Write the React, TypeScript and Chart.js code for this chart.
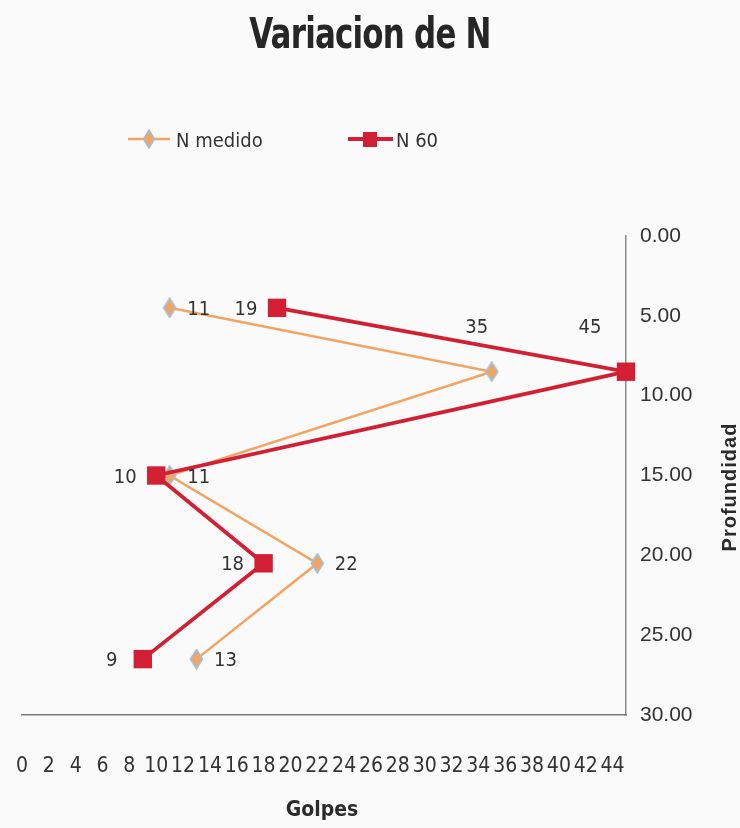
import React, { useEffect, useRef } from "react";
import { Chart, registerables } from "chart.js";

Chart.register(...registerables);

// ---- Data ----
const depths = [4.5, 8.5, 15, 20.5, 26.5];
const nMedido = [11, 35, 11, 22, 13];
const n60 = [19, 45, 10, 18, 9];
const xTickValues = [0, 2, 4, 6, 8, 10, 12, 14, 16, 18, 20, 22, 24, 26, 28, 30, 32, 34, 36, 38, 40, 42, 44];
const yTickValues = [0, 5, 10, 15, 20, 25, 30];
const seriesNames = ["N medido", "N 60"];
const chartTitle = "Variacion de N";
const xTitle = "Golpes";
const yTitle = "Profundidad";

const NARROW = '"DejaVu Sans Condensed", "Liberation Sans Narrow", "Liberation Sans", Arial, sans-serif';
const WIDE = '"Liberation Sans", Arial, sans-serif';
const ORANGE = "#f3a463";
const RED = "#d21f33";
const DIAMOND_EDGE = "#9fbfd8";
const TEXT = "#333333";

function makeDiamond(): HTMLCanvasElement {
  const c = document.createElement("canvas");
  c.width = 15;
  c.height = 21;
  const g = c.getContext("2d")!;
  g.beginPath();
  g.moveTo(7.5, 1);
  g.lineTo(13.5, 10.5);
  g.lineTo(7.5, 20);
  g.lineTo(1.5, 10.5);
  g.closePath();
  g.fillStyle = ORANGE;
  g.fill();
  g.strokeStyle = DIAMOND_EDGE;
  g.lineWidth = 1.6;
  g.stroke();
  return c;
}

const textPlugin = {
  id: "textPlugin",
  afterDraw(chart: any) {
    const ctx = chart.ctx;
    ctx.save();
    // Title (condensed horizontally)
    ctx.save();
    ctx.fillStyle = "#262626";
    ctx.font = `bold 43px ${NARROW}`;
    (ctx as any).letterSpacing = "-1px";
    ctx.textAlign = "center";
    ctx.textBaseline = "alphabetic";
    ctx.translate(370, 48);
    ctx.scale(0.8, 1);
    ctx.fillText(chartTitle, 0, 0);
    ctx.restore();

    // Legend
    ctx.lineWidth = 2.5;
    ctx.strokeStyle = ORANGE;
    ctx.beginPath();
    ctx.moveTo(128, 139);
    ctx.lineTo(170, 139);
    ctx.stroke();
    ctx.beginPath();
    ctx.moveTo(149, 130);
    ctx.lineTo(154.5, 139);
    ctx.lineTo(149, 148);
    ctx.lineTo(143.5, 139);
    ctx.closePath();
    ctx.fillStyle = ORANGE;
    ctx.fill();
    ctx.strokeStyle = DIAMOND_EDGE;
    ctx.lineWidth = 1.5;
    ctx.stroke();

    ctx.strokeStyle = RED;
    ctx.lineWidth = 3.8;
    ctx.beginPath();
    ctx.moveTo(348, 139);
    ctx.lineTo(393, 139);
    ctx.stroke();
    ctx.fillStyle = RED;
    ctx.fillRect(363, 132, 14, 15);

    ctx.fillStyle = TEXT;
    ctx.font = `20px ${NARROW}`;
    ctx.textAlign = "left";
    ctx.textBaseline = "alphabetic";
    ctx.fillText(seriesNames[0], 176, 147);
    ctx.fillText(seriesNames[1], 396, 147);

    // Data labels
    ctx.font = `20px ${NARROW}`;
    ctx.textAlign = "center";
    chart.data.datasets.forEach((ds: any, di: number) => {
      const meta = chart.getDatasetMeta(di);
      const vals = ds.data.map((d: any) => d.x);
      const maxV = Math.max(...vals);
      meta.data.forEach((pt: any, i: number) => {
        const v = ds.data[i].x;
        let lx: number, ly: number;
        if (v === maxV) {
          lx = pt.x + (di === 0 ? -15 : -36);
          ly = pt.y - 39;
        } else if (di === 0) {
          lx = pt.x + 29;
          ly = pt.y + 7;
        } else {
          lx = pt.x - 31;
          ly = pt.y + 7;
        }
        ctx.fillText(String(v), lx, ly);
      });
    });

    // Axis titles
    ctx.font = `bold 21px ${NARROW}`;
    ctx.fillStyle = "#2b2b2b";
    ctx.fillText(xTitle, 322, 816);

    ctx.translate(736, 487);
    ctx.rotate(-Math.PI / 2);
    ctx.font = `bold 20px ${WIDE}`;
    (ctx as any).letterSpacing = "1px";
    ctx.textAlign = "center";
    ctx.fillText(yTitle, 0, 0);
    ctx.restore();
  },
};

const bgPlugin = {
  id: "bgPlugin",
  beforeDraw(chart: any) {
    const ctx = chart.ctx;
    ctx.save();
    ctx.fillStyle = "#fafafa";
    ctx.fillRect(0, 0, chart.width, chart.height);
    ctx.restore();
  },
};

export default function App() {
  const ref = useRef<HTMLCanvasElement | null>(null);
  useEffect(() => {
    if (!ref.current) return;
    const diamond = makeDiamond();
    const chart = new Chart(ref.current, {
      type: "line",
      data: {
        datasets: [
          {
            label: seriesNames[0],
            data: nMedido.map((v, i) => ({ x: v, y: depths[i] })),
            borderColor: ORANGE,
            borderWidth: 2.5,
            backgroundColor: ORANGE,
            pointStyle: diamond as any,
            pointRadius: 9,
            tension: 0,
            clip: false as any,
            order: 2,
          },
          {
            label: seriesNames[1],
            data: n60.map((v, i) => ({ x: v, y: depths[i] })),
            borderColor: RED,
            borderWidth: 3.8,
            backgroundColor: RED,
            pointStyle: "rect",
            pointRadius: 13,
            pointBackgroundColor: RED,
            pointBorderColor: RED,
            pointBorderWidth: 0,
            tension: 0,
            clip: false as any,
            order: 1,
          },
        ],
      },
      options: {
        responsive: false,
        animation: false,
        events: [],
        layout: { padding: { top: 236, left: 22, right: 0, bottom: 0 } },
        plugins: {
          legend: { display: false },
          title: { display: false },
          tooltip: { enabled: false },
        },
        scales: {
          x: {
            type: "linear",
            position: "bottom",
            min: 0,
            max: 45,
            afterFit: (s: any) => {
              s.height = 113;
            },
            afterBuildTicks: (s: any) => {
              s.ticks = xTickValues.map((v) => ({ value: v }));
            },
            grid: {
              display: true,
              drawOnChartArea: false,
              drawTicks: true,
              tickLength: 39,
              color: "rgba(0,0,0,0)",
            },
            border: { display: true, color: "#7a7a7a", width: 1.5 },
            ticks: {
              autoSkip: false,
              maxRotation: 0,
              minRotation: 0,
              padding: 0,
              color: TEXT,
              font: { family: NARROW, size: 21 },
            },
          },
          y: {
            type: "linear",
            position: "right",
            reverse: true,
            min: 0,
            max: 30,
            afterFit: (s: any) => {
              s.width = 114;
            },
            afterBuildTicks: (s: any) => {
              s.ticks = yTickValues.map((v) => ({ value: v }));
            },
            grid: { display: false, drawTicks: false },
            border: { display: true, color: "#8a8a8a", width: 1.5 },
            ticks: {
              padding: 14,
              color: TEXT,
              font: { family: WIDE, size: 21 },
              callback: (v: any) => Number(v).toFixed(2),
            },
          },
        },
      },
      plugins: [bgPlugin, textPlugin],
    });
    return () => chart.destroy();
  }, []);
  return (
    <div style={{ position: "absolute", left: 0, top: 0, width: 740, height: 828 }}>
      <canvas ref={ref} width={740} height={828} />
    </div>
  );
}
